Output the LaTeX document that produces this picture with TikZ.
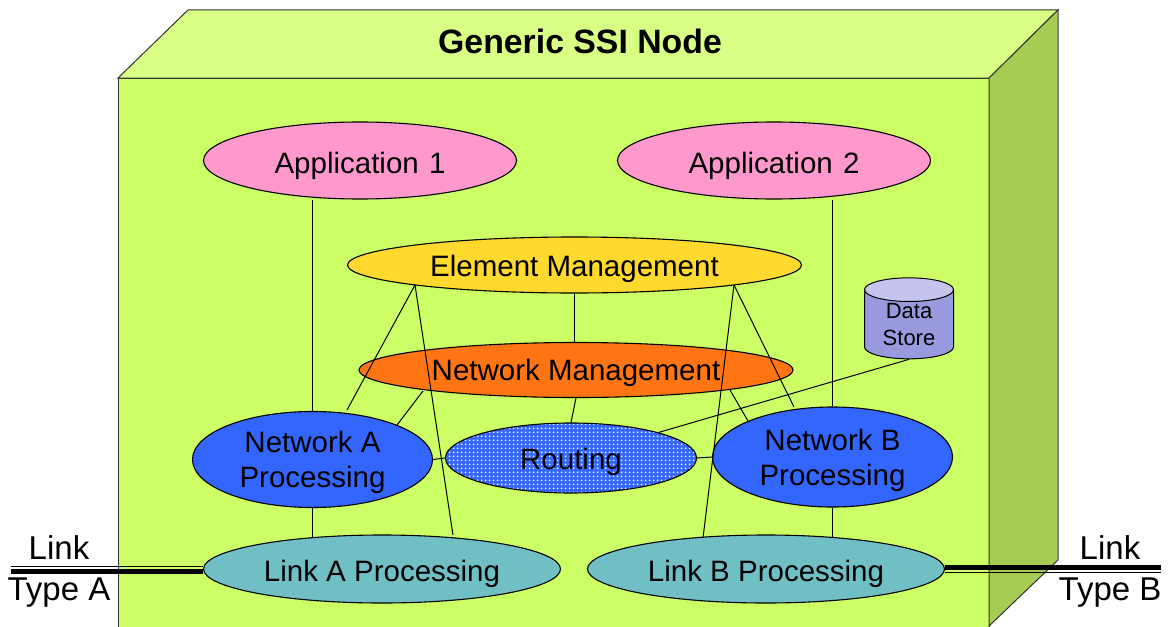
\documentclass[tikz,border=0pt]{standalone}
\usepackage{fontspec}
\setmainfont{Liberation Sans}
\usetikzlibrary{shapes.geometric,patterns}
\definecolor{boxfront}{HTML}{CCFF66}
\definecolor{boxtop}{HTML}{D9FF85}
\definecolor{boxside}{HTML}{A6CC52}
\definecolor{appfill}{HTML}{FF99CC}
\definecolor{elemfill}{HTML}{FFD92E}
\definecolor{mgmtfill}{HTML}{FF7514}
\definecolor{netfill}{HTML}{3366FF}
\definecolor{linkfill}{HTML}{70BFC4}
\definecolor{storefill}{HTML}{9999DD}
\definecolor{storetop}{HTML}{C4C4EE}
\pgfdeclarepatternformonly{routedots}{\pgfpointorigin}{\pgfqpoint{4pt}{4pt}}{\pgfqpoint{4pt}{4pt}}{
	\pgfpathrectangle{\pgfqpoint{1pt}{1pt}}{\pgfqpoint{2pt}{2pt}}
	\pgfusepath{fill}
}
\tikzset{
	blob/.style={ellipse,draw=black,line width=1.1pt,inner sep=0pt,align=center,text depth=0pt,font=\fontsize{29.5}{35}\selectfont},
	wire/.style={line width=1pt},
	face/.style={draw=black!80,line width=1pt},
	linktext/.style={font=\fontsize{33}{40}\selectfont,inner sep=0pt}
}
\begin{document}
\begin{tikzpicture}[x=1pt,y=-1pt]
				\useasboundingbox (0,0) rectangle (1169,626);
				\begin{scope}
					\clip (0,0) rectangle (1169,626);
					\draw[face,fill=boxfront] (118,78) rectangle (989,640);
					\draw[face,fill=boxtop] (118,78)--(188,10)--(1058,10)--(989,78)--cycle;
					\draw[face,fill=boxside] (989,78)--(1058,10)--(1058,560)--(989,626)--cycle;
				\end{scope}
				\node[font=\fontsize{33.8}{40}\selectfont\bfseries] (title) at (580,41) {Generic SSI Node};
				\node[blob,text height=25.5pt,fill=appfill,minimum width=313,minimum height=77] (appa) at (360,160.5) {Application\hspace{2pt} 1};
				\node[blob,text height=25.5pt,fill=appfill,minimum width=313,minimum height=77] (appb) at (774,160.5) {Application\hspace{2pt} 2};
				\node[blob,text height=23.5pt,fill=elemfill,minimum width=454,minimum height=56] (elem) at (574.5,265) {Element Management};
				\node[blob,fill=mgmtfill,minimum width=434,minimum height=55] (mgmt) at (576,370) {Network Management};
				\node[blob,fill=netfill,minimum width=240,minimum height=96] (neta) at (312.5,459.5) {Network A\\Processing};
				\node[blob,fill=netfill,minimum width=240,minimum height=100] (netb) at (832.5,457) {Network B\\Processing};
				\node[blob,preaction={fill=netfill},pattern=routedots,pattern color=white,minimum width=251,minimum height=70] (routing) at (571,458) {};
				\node[font=\fontsize{29.5}{35}\selectfont] (routingtext) at (571,461.5) {Routing};
				\node[blob,text height=25.5pt,fill=linkfill,minimum width=357,minimum height=68] (linka) at (382,569) {Link A Processing};
				\node[blob,text height=25.5pt,fill=linkfill,minimum width=357,minimum height=68] (linkb) at (766,569) {Link B Processing};
				\node[cylinder,shape border rotate=90,aspect=.45,draw=black,line width=1pt,cylinder uses custom fill,cylinder body fill=storefill,cylinder end fill=storetop,minimum width=89,minimum height=81,inner sep=0pt,align=center,font=\fontsize{22}{27}\selectfont] (store) at (909,324.5) {Data\\Store};
				\node[linktext] (linkal) at (59,548) {Link};
				\node[linktext] (linkat) at (59,593) {Type A};
				\node[linktext] (linkbl) at (1110,548) {Link};
				\node[linktext] (linkbt) at (1110,593) {Type B};
				\coordinate (ela) at (415,285);
				\coordinate (elb) at (734,285);
				\coordinate (appaend) at (312.5,200);
				\coordinate (appbend) at (832.5,200);
				\coordinate (tola) at (453,535);
				\coordinate (tolb) at (703,538);
				\coordinate (tona) at (347,410);
				\coordinate (tonb) at (794,407);
				\coordinate (nelink) at (312.5,537);
				\coordinate (nblink) at (832.5,537);
				\coordinate (mgleft) at (423,391);
				\coordinate (naright) at (397,425);
				\coordinate (mgright) at (730,390);
				\coordinate (nbleft) at (748,421);
				\coordinate (leftend) at (11,566);
				\coordinate (leftthick) at (11,571);
				\coordinate (rightend) at (1161,572);
				\coordinate (rightthick) at (1161,567);
				\draw[wire] (appaend)--(neta.north);
				\draw[wire] (appbend)--(netb.north);
				\draw[wire] (neta.south)--(nelink);
				\draw[wire] (netb.south)--(nblink);
				\draw[wire] (ela)--(tona);
				\draw[wire] (ela)--(tola);
				\draw[wire] (elb)--(tolb);
				\draw[wire] (elb)--(tonb);
				\draw[wire] (elem.south)--(mgmt.north -| elem.south);
				\draw[wire] (mgmt.south)--(routing.north);
				\draw[wire] (mgleft)--(naright);
				\draw[wire] (mgright)--(nbleft);
				\draw[wire] (neta.east)--(routing.west);
				\draw[wire] (routing.east)--(netb.west);
				\draw[wire] (store.south)--(routing);
				\draw[line width=1pt] (leftend)--(linka.west |- leftend);
				\draw[line width=5pt] (leftthick)--(linka.west |- leftthick);
				\draw[line width=5pt] (linkb.east |- rightthick)--(rightthick);
				\draw[line width=1pt] (linkb.east |- rightend)--(rightend);
\end{tikzpicture}
\end{document}
